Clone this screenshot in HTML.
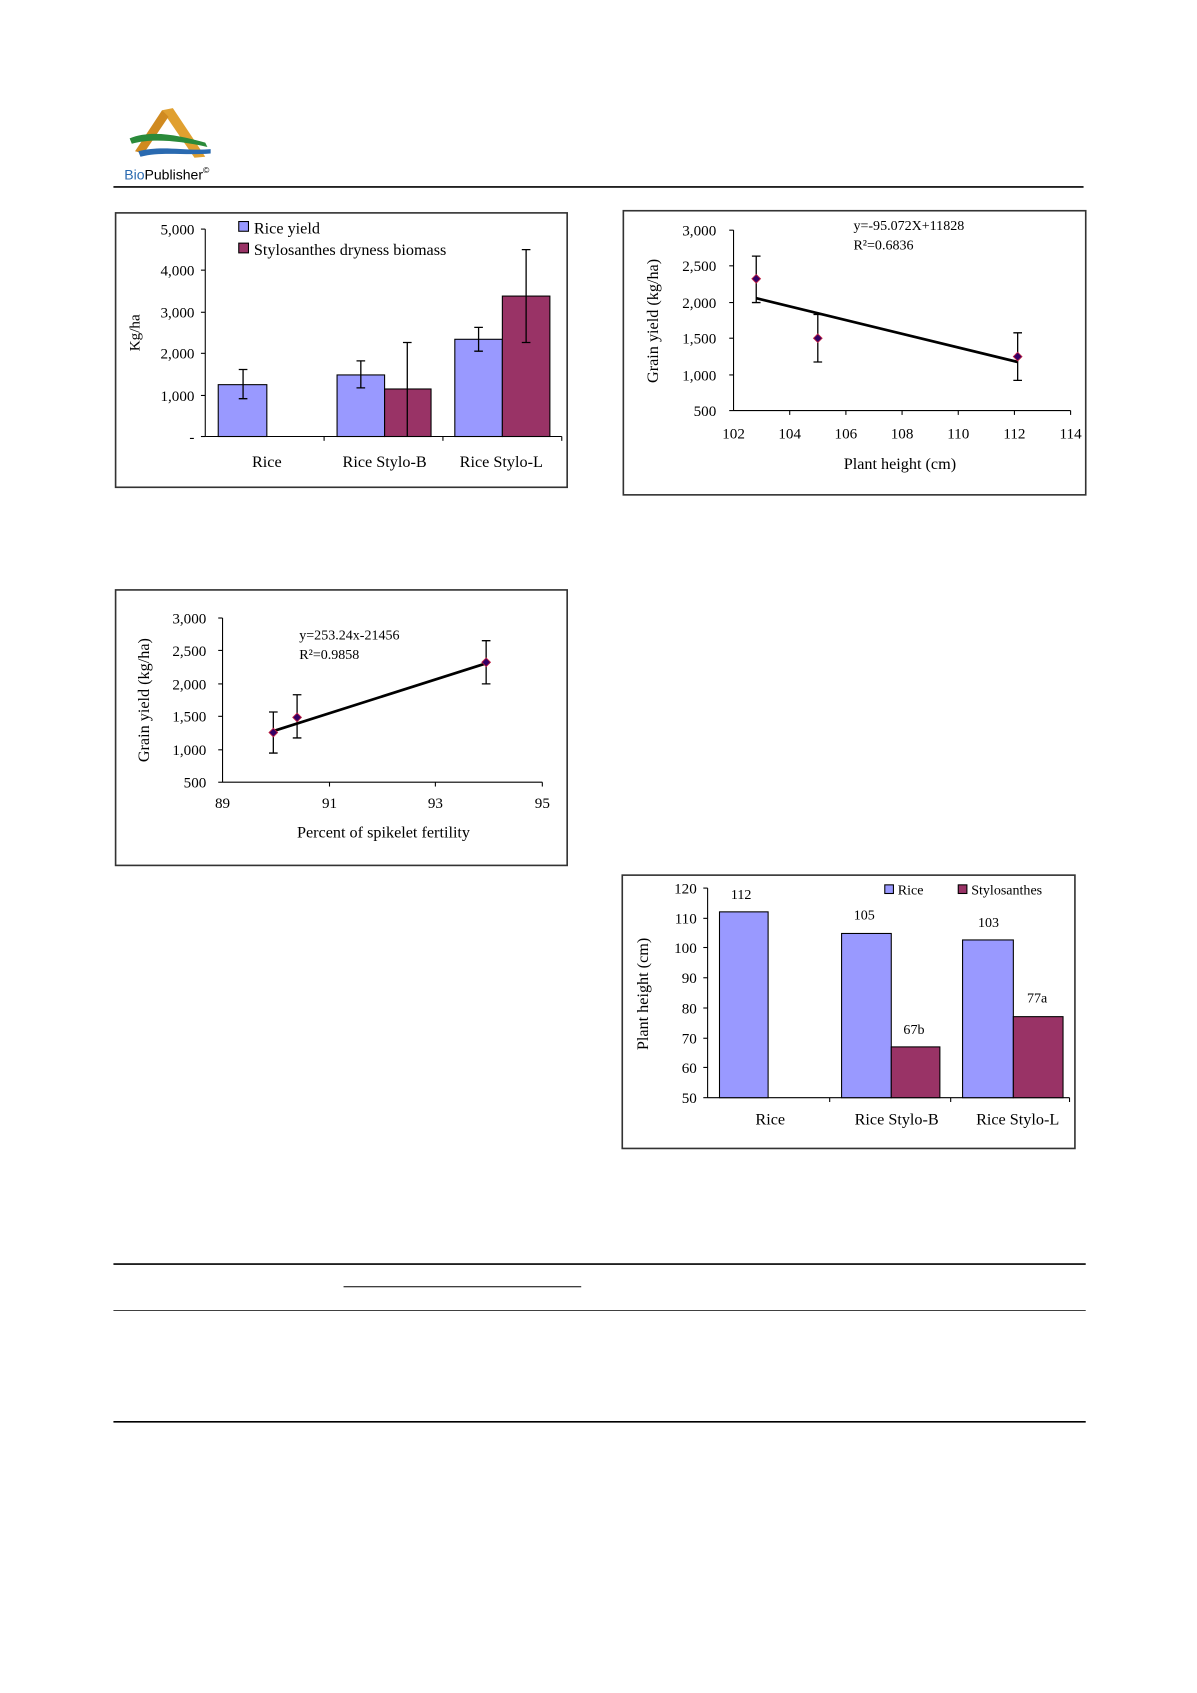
<!DOCTYPE html>
<html><head><meta charset="utf-8"><style>
html,body{margin:0;padding:0;background:#fff}
svg{display:block}
text{font-family:"Liberation Serif",serif;fill:#000}
</style></head><body>
<svg width="1197" height="1693" viewBox="0 0 1108 1567" xmlns="http://www.w3.org/2000/svg">
<polygon points="150,102 160,100 190,145 180,146" fill="#e0a030"/>
<polygon points="150,102 125,140 133,142 156,108" fill="#d08a20"/>
<path d="M120,128 C140,120 165,125 190,132 L192,136 C165,130 140,128 122,133Z" fill="#2a8a3a"/>
<path d="M128,140 C150,134 170,140 195,138 L195,142 C170,144 150,140 130,145Z" fill="#2a6ab0"/>
<text x="115" y="166" style="font-family:'Liberation Sans',sans-serif" font-size="13"><tspan fill="#2a6ab0">Bio</tspan>Publisher<tspan font-size="8" dy="-6">©</tspan></text>
<line x1="105" y1="173" x2="1003" y2="173" stroke="#000" stroke-width="1.5"/>

<rect x="107" y="197" width="418" height="254" fill="none" stroke="#333" stroke-width="1.5"/>
<g stroke="#000" stroke-width="1">
<line x1="190" y1="212" x2="190" y2="404"/>
<line x1="190" y1="404" x2="520" y2="404"/>
<line x1="186" y1="212" x2="190" y2="212"/><line x1="186" y1="250" x2="190" y2="250"/><line x1="186" y1="289" x2="190" y2="289"/><line x1="186" y1="327" x2="190" y2="327"/><line x1="186" y1="366" x2="190" y2="366"/><line x1="186" y1="404" x2="190" y2="404"/>
<line x1="300" y1="404" x2="300" y2="408"/><line x1="410" y1="404" x2="410" y2="408"/><line x1="520" y1="404" x2="520" y2="408"/>
</g>
<g font-size="14" text-anchor="end">
<text x="180" y="217">5,000</text><text x="180" y="255">4,000</text><text x="180" y="294">3,000</text><text x="180" y="332">2,000</text><text x="180" y="371">1,000</text><text x="180" y="409">-</text>
</g>
<text transform="translate(129,308) rotate(-90)" font-size="14" text-anchor="middle">Kg/ha</text>
<g stroke="#000" stroke-width="1">
<rect x="202" y="356" width="45" height="48" fill="#9999ff"/>
<rect x="312" y="347" width="44" height="57" fill="#9999ff"/>
<rect x="356" y="360" width="43" height="44" fill="#993366"/>
<rect x="421" y="314" width="44" height="90" fill="#9999ff"/>
<rect x="465" y="274" width="44" height="130" fill="#993366"/>
</g>
<g stroke="#000" stroke-width="1.2" fill="none">
<path d="M225,342V369M221,342h8M221,369h8"/>
<path d="M334,334V359M330,334h8M330,359h8"/>
<path d="M377,317V404M373,317h8"/>
<path d="M443,303V325M439,303h8M439,325h8"/>
<path d="M487,231V317M483,231h8M483,317h8"/>
</g>
<rect x="221" y="205" width="9" height="9" fill="#9999ff" stroke="#000"/>
<rect x="221" y="225" width="9" height="9" fill="#993366" stroke="#000"/>
<text x="235" y="216" font-size="15">Rice yield</text>
<text x="235" y="236" font-size="15">Stylosanthes dryness biomass</text>
<g font-size="15" text-anchor="middle">
<text x="247" y="432">Rice</text><text x="356" y="432">Rice Stylo-B</text><text x="464" y="432">Rice Stylo-L</text>
</g>

<rect x="577" y="195" width="428" height="263" fill="none" stroke="#333" stroke-width="1.5"/>
<g stroke="#000" stroke-width="1">
<line x1="679" y1="213" x2="679" y2="380"/><line x1="679" y1="380" x2="991" y2="380"/>
<line x1="675" y1="213" x2="679" y2="213"/><line x1="675" y1="246" x2="679" y2="246"/><line x1="675" y1="280" x2="679" y2="280"/><line x1="675" y1="313" x2="679" y2="313"/><line x1="675" y1="347" x2="679" y2="347"/><line x1="675" y1="380" x2="679" y2="380"/>
<line x1="731" y1="380" x2="731" y2="384"/><line x1="783" y1="380" x2="783" y2="384"/><line x1="835" y1="380" x2="835" y2="384"/><line x1="887" y1="380" x2="887" y2="384"/><line x1="939" y1="380" x2="939" y2="384"/><line x1="991" y1="380" x2="991" y2="384"/>
</g>
<g font-size="14" text-anchor="end">
<text x="663" y="218">3,000</text><text x="663" y="251">2,500</text><text x="663" y="285">2,000</text><text x="663" y="318">1,500</text><text x="663" y="352">1,000</text><text x="663" y="385">500</text>
</g>
<g font-size="14" text-anchor="middle">
<text x="679" y="406">102</text><text x="731" y="406">104</text><text x="783" y="406">106</text><text x="835" y="406">108</text><text x="887" y="406">110</text><text x="939" y="406">112</text><text x="991" y="406">114</text>
</g>
<text x="833" y="434" font-size="15" text-anchor="middle">Plant height (cm)</text>
<text transform="translate(609,297) rotate(-90)" font-size="15" text-anchor="middle">Grain yield (kg/ha)</text>
<text x="790" y="213" font-size="13">y=-95.072X+11828</text>
<text x="790" y="231" font-size="13">R²=0.6836</text>
<line x1="700" y1="276" x2="942" y2="335" stroke="#000" stroke-width="2.5"/>
<g stroke="#000" stroke-width="1.2" fill="none">
<path d="M700,237V280M696,237h8M696,280h8"/>
<path d="M757,291V335M753,291h8M753,335h8"/>
<path d="M942,308V352M938,308h8M938,352h8"/>
</g>
<g fill="#330066" stroke="#c02040" stroke-width="0.8">
<path d="M700,254l4,4l-4,4l-4,-4z"/><path d="M757,309l4,4l-4,4l-4,-4z"/><path d="M942,326l4,4l-4,4l-4,-4z"/>
</g>

<rect x="107" y="546" width="418" height="255" fill="none" stroke="#333" stroke-width="1.5"/>
<g stroke="#000" stroke-width="1">
<line x1="206" y1="572" x2="206" y2="724"/><line x1="206" y1="724" x2="502" y2="724"/>
<line x1="202" y1="572" x2="206" y2="572"/><line x1="202" y1="602" x2="206" y2="602"/><line x1="202" y1="633" x2="206" y2="633"/><line x1="202" y1="663" x2="206" y2="663"/><line x1="202" y1="694" x2="206" y2="694"/><line x1="202" y1="724" x2="206" y2="724"/>
<line x1="305" y1="724" x2="305" y2="728"/><line x1="403" y1="724" x2="403" y2="728"/><line x1="502" y1="724" x2="502" y2="728"/>
</g>
<g font-size="14" text-anchor="end">
<text x="191" y="577">3,000</text><text x="191" y="607">2,500</text><text x="191" y="638">2,000</text><text x="191" y="668">1,500</text><text x="191" y="699">1,000</text><text x="191" y="729">500</text>
</g>
<g font-size="14" text-anchor="middle">
<text x="206" y="748">89</text><text x="305" y="748">91</text><text x="403" y="748">93</text><text x="502" y="748">95</text>
</g>
<text x="355" y="775" font-size="15" text-anchor="middle">Percent of spikelet fertility</text>
<text transform="translate(138,648) rotate(-90)" font-size="15" text-anchor="middle">Grain yield (kg/ha)</text>
<text x="277" y="592" font-size="13">y=253.24x-21456</text>
<text x="277" y="610" font-size="13">R²=0.9858</text>
<line x1="252" y1="677" x2="453" y2="613" stroke="#000" stroke-width="2.5"/>
<g stroke="#000" stroke-width="1.2" fill="none">
<path d="M253,659V697M249,659h8M249,697h8"/>
<path d="M275,643V683M271,643h8M271,683h8"/>
<path d="M450,593V633M446,593h8M446,633h8"/>
</g>
<g fill="#330066" stroke="#c02040" stroke-width="0.8">
<path d="M253,674l4,4l-4,4l-4,-4z"/><path d="M275,660l4,4l-4,4l-4,-4z"/><path d="M450,609l4,4l-4,4l-4,-4z"/>
</g>

<rect x="576" y="810" width="419" height="253" fill="none" stroke="#333" stroke-width="1.5"/>
<g stroke="#000" stroke-width="1">
<line x1="655" y1="822" x2="655" y2="1016"/><line x1="655" y1="1016" x2="990" y2="1016"/>
<line x1="651" y1="822" x2="655" y2="822"/><line x1="651" y1="850" x2="655" y2="850"/><line x1="651" y1="877" x2="655" y2="877"/><line x1="651" y1="905" x2="655" y2="905"/><line x1="651" y1="933" x2="655" y2="933"/><line x1="651" y1="961" x2="655" y2="961"/><line x1="651" y1="988" x2="655" y2="988"/><line x1="651" y1="1016" x2="655" y2="1016"/>
<line x1="768" y1="1016" x2="768" y2="1020"/><line x1="880" y1="1016" x2="880" y2="1020"/><line x1="990" y1="1016" x2="990" y2="1020"/>
</g>
<g font-size="14" text-anchor="end">
<text x="645" y="827">120</text><text x="645" y="855">110</text><text x="645" y="882">100</text><text x="645" y="910">90</text><text x="645" y="938">80</text><text x="645" y="966">70</text><text x="645" y="993">60</text><text x="645" y="1021">50</text>
</g>
<text transform="translate(600,920) rotate(-90)" font-size="15" text-anchor="middle">Plant height (cm)</text>
<g stroke="#000" stroke-width="1">
<rect x="666" y="844" width="45" height="172" fill="#9999ff"/>
<rect x="779" y="864" width="46" height="152" fill="#9999ff"/>
<rect x="825" y="969" width="45" height="47" fill="#993366"/>
<rect x="891" y="870" width="47" height="146" fill="#9999ff"/>
<rect x="938" y="941" width="46" height="75" fill="#993366"/>
</g>
<g font-size="13" text-anchor="middle">
<text x="686" y="832">112</text><text x="800" y="851">105</text><text x="915" y="858">103</text><text x="846" y="957">67b</text><text x="960" y="928">77a</text>
</g>
<rect x="819" y="819" width="8" height="8" fill="#9999ff" stroke="#000"/>
<text x="831" y="828" font-size="13">Rice</text>
<rect x="887" y="819" width="8" height="8" fill="#993366" stroke="#000"/>
<text x="899" y="828" font-size="13">Stylosanthes</text>
<g font-size="15" text-anchor="middle">
<text x="713" y="1041">Rice</text><text x="830" y="1041">Rice Stylo-B</text><text x="942" y="1041">Rice Stylo-L</text>
</g>

<line x1="105" y1="1170" x2="1005" y2="1170" stroke="#000" stroke-width="1.5"/>
<line x1="318" y1="1191" x2="538" y2="1191" stroke="#000" stroke-width="1"/>
<line x1="105" y1="1213" x2="1005" y2="1213" stroke="#000" stroke-width="0.8"/>
<line x1="105" y1="1316" x2="1005" y2="1316" stroke="#000" stroke-width="1.5"/>
</svg>
</body></html>
